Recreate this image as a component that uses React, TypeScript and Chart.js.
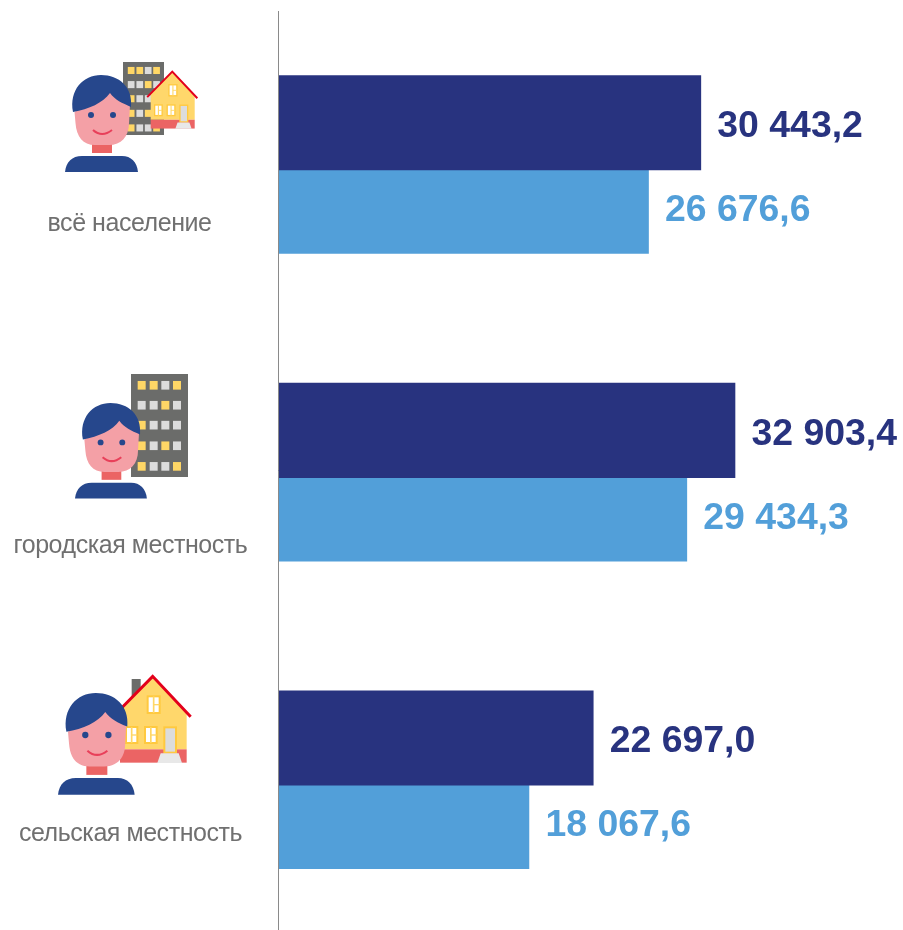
import React, { useEffect, useRef } from "react";
import { Chart, registerables } from "chart.js";

Chart.register(...registerables);

const categories = ["всё население", "городская местность", "сельская местность"];
const darkValues = [30443.2, 32903.4, 22697.0];
const lightValues = [26676.6, 29434.3, 18067.6];
const DARK = "#28337f";
const LIGHT = "#529fd9";

const fmt = (v: number) => {
  const [i, d] = v.toFixed(1).split(".");
  return i.replace(/\B(?=(\d{3})+$)/g, " ") + "," + d;
};

const labelY = [230.5, 552.5, 840.5];
const labelX = [129.5, 130.5, 130.5];
const valueOffsetY = [14.5, 9.5];

const overlay = {
  id: "overlay",
  afterDatasetsDraw(chart: any) {
    const { ctx } = chart;
    ctx.save();
    ctx.strokeStyle = "#8a8a8a";
    ctx.lineWidth = 1;
    const x0 = Math.round(chart.scales.x.getPixelForValue(0)) + 0.5;
    ctx.beginPath();
    ctx.moveTo(x0, 11);
    ctx.lineTo(x0, 930);
    ctx.stroke();
    ctx.textBaseline = "alphabetic";
    ctx.textAlign = "left";
    ctx.font = "bold 37.4px 'Liberation Sans'";
    chart.data.datasets.forEach((ds: any, di: number) => {
      const meta = chart.getDatasetMeta(di);
      meta.data.forEach((bar: any, i: number) => {
        ctx.fillStyle = ds.backgroundColor;
        ctx.fillText(fmt(ds.data[i]), bar.x + 16.5, bar.y + valueOffsetY[di]);
      });
    });
    ctx.textAlign = "center";
    ctx.font = "25px 'Liberation Sans'";
    (ctx as any).letterSpacing = "-0.45px";
    ctx.fillStyle = "#707070";
    categories.forEach((c, i) => ctx.fillText(c, labelX[i], labelY[i]));
    ctx.restore();
  },
};

function Person({ x, y, s }: { x: number; y: number; s: number }) {
  return (
    <g transform={`translate(${x} ${y}) scale(${s})`}>
      <rect x="27" y="68" width="20" height="10" fill="#eb6464" />
      <path d="M9.5 37 L45 15 L65 30 L64 48 C64 62 56 70 44 70 L30 70 C18 70 11.5 62 10.5 48 Z" fill="#f4a0a6" />
      <path d="M8 37 C4 15 18 0 36 0 C54 0 68 12 66 32 C57 28 50 25 45 18 C38 28 24 34 8 37 Z" fill="#26478c" />
      <path d="M0 97 C1 87 7 81 17 81 L57 81 C66 81 72 87 73 97 Z" fill="#26478c" />
      <circle cx="26" cy="40" r="3" fill="#26478c" />
      <circle cx="48" cy="40" r="3" fill="#26478c" />
      <path d="M28 55 Q37 63 47 55" fill="none" stroke="#e8405a" strokeWidth="2" />
    </g>
  );
}

const winCols = [20, 56, 91, 126];
const winRows = [21, 81, 141, 203, 265];
const winPattern = ["YYGY", "GGYG", "YGGG", "YGYG", "YGGY"];

function Building({ x, y, w, h, ww = 24 }: { x: number; y: number; w: number; h: number; ww?: number }) {
  return (
    <g transform={`translate(${x} ${y}) scale(${w / 171} ${h / 310})`}>
      <rect width="171" height="310" fill="#6b6c6a" />
      {winRows.map((ry, r) =>
        winCols.map((cx, c) => (
          <rect key={`${r}${c}`} x={cx} y={ry} width={ww} height={ww + 2} fill={winPattern[r][c] === "Y" ? "#ffd766" : "#dcdcdc"} />
        ))
      )}
    </g>
  );
}

function Win({ x, y, w, h }: { x: number; y: number; w: number; h: number }) {
  return (
    <g>
      <rect x={x} y={y} width={w} height={h} fill="#fff" stroke="#ffc93f" strokeWidth="6" />
      <rect x={x + w / 2 - 2.5} y={y} width="5" height={h} fill="#ffd766" />
      <rect x={x + w / 2} y={y + h / 2 - 2} width={w / 2} height="4" fill="#ffd766" />
    </g>
  );
}

function House({ x, y, k, chimney }: { x: number; y: number; k: number; chimney?: boolean }) {
  return (
    <g transform={`translate(${x} ${y}) scale(${k})`}>
      {chimney && <rect x="275" y="42" width="27" height="90" fill="#6b6c6a" />}
      <path d="M240 253 L240 130 L338 34 L440 145 L440 253 Z" fill="#ffd76b" />
      <rect x="240" y="253" width="200" height="40" fill="#eb6464" />
      <path d="M224 150 L338 34 L452 155" fill="none" stroke="#e3001b" strokeWidth="9" />
      <Win x={323} y={94} w={36} h={50} />
      <Win x={258} y={186} w={34} h={48} />
      <Win x={315} y={186} w={35} h={48} />
      <rect x="373" y="187" width="35" height="76" fill="#dcdcdc" stroke="#ffc93f" strokeWidth="6" />
      <path d="M362 265 L416 265 L426 294 L352 294 Z" fill="#e8e8e8" />
    </g>
  );
}

export default function App() {
  const ref = useRef<HTMLCanvasElement>(null);
  useEffect(() => {
    const chart = new Chart(ref.current!, {
      type: "bar",
      data: {
        labels: categories,
        datasets: [
          { data: darkValues, backgroundColor: DARK, barThickness: 94.5, borderWidth: 0 },
          { data: lightValues, backgroundColor: LIGHT, barThickness: 83.5, borderWidth: 0 },
        ],
      },
      plugins: [overlay],
      options: {
        indexAxis: "y",
        animation: false,
        responsive: false,
        layout: { padding: { left: 278, top: 16.25, right: 0, bottom: 0 } },
        plugins: { legend: { display: false }, tooltip: { enabled: false } },
        scales: {
          x: { display: false, min: 0, max: 45000 },
          y: { display: false },
        },
      },
    } as any);
    return () => chart.destroy();
  }, []);
  return (
    <div style={{ position: "absolute", left: 0, top: 0, width: 903, height: 930, overflow: "hidden", background: "#fff" }}>
      <canvas ref={ref} width={903} height={939} style={{ display: "block", width: 903, height: 939 }} />
      <svg width="278" height="930" style={{ position: "absolute", left: 0, top: 0, filter: "blur(0.4px)", pointerEvents: "none" }}>
        <Building x={123} y={62} w={41} h={73} ww={28} />
        <House x={97.9} y={64.1} k={0.22} />
        <Person x={65} y={75} s={1} />
        <Building x={131} y={374} w={57} h={103} />
        <Person x={75} y={403} s={0.985} />
        <House x={40} y={665} k={1 / 3} chimney />
        <Person x={58} y={693} s={1.05} />
      </svg>
    </div>
  );
}
